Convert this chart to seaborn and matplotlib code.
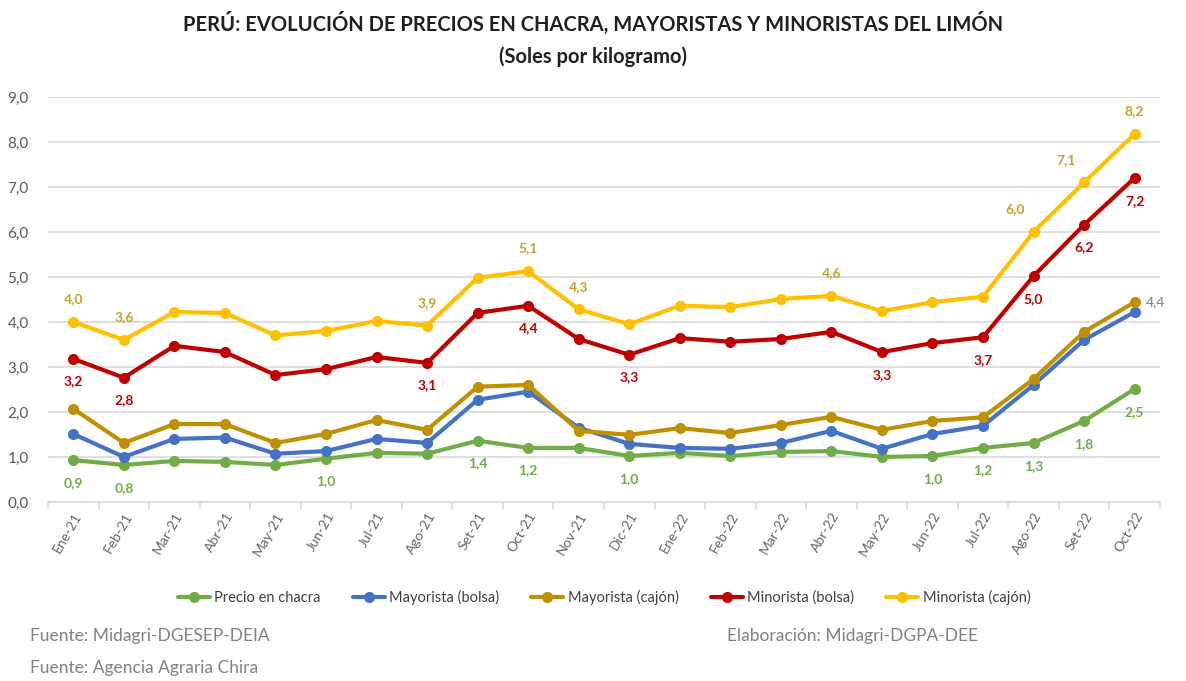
import matplotlib
matplotlib.use("Agg")
import matplotlib.pyplot as plt
import seaborn as sns
import pandas as pd
from matplotlib.ticker import FixedLocator, FuncFormatter

months = ["Ene-21", "Feb-21", "Mar-21", "Abr-21", "May-21", "Jun-21", "Jul-21", "Ago-21",
          "Set-21", "Oct-21", "Nov-21", "Dic-21", "Ene-22", "Feb-22", "Mar-22", "Abr-22",
          "May-22", "Jun-22", "Jul-22", "Ago-22", "Set-22", "Oct-22"]

chacra = [0.93, 0.82, 0.91, 0.89, 0.82, 0.96, 1.09, 1.07, 1.36, 1.20, 1.20, 1.02,
          1.09, 1.02, 1.11, 1.13, 1.00, 1.02, 1.20, 1.31, 1.80, 2.51]
may_bolsa = [1.51, 1.00, 1.40, 1.43, 1.07, 1.13, 1.40, 1.31, 2.27, 2.45, 1.65, 1.29,
             1.20, 1.18, 1.31, 1.58, 1.18, 1.51, 1.69, 2.60, 3.60, 4.22]
may_cajon = [2.07, 1.31, 1.73, 1.73, 1.31, 1.51, 1.82, 1.60, 2.56, 2.60, 1.58, 1.49,
             1.64, 1.53, 1.71, 1.89, 1.60, 1.80, 1.88, 2.73, 3.78, 4.44]
min_bolsa = [3.18, 2.76, 3.47, 3.33, 2.82, 2.95, 3.22, 3.09, 4.20, 4.36, 3.62, 3.27,
             3.64, 3.56, 3.62, 3.78, 3.33, 3.53, 3.66, 5.02, 6.16, 7.20]
min_cajon = [4.00, 3.60, 4.22, 4.20, 3.70, 3.80, 4.02, 3.92, 4.98, 5.13, 4.28, 3.95,
             4.36, 4.33, 4.51, 4.58, 4.24, 4.44, 4.56, 6.00, 7.10, 8.18]

series_names = ["Precio en chacra", "Mayorista (bolsa)", "Mayorista (cajón)",
                "Minorista (bolsa)", "Minorista (cajón)"]
series_vals = [chacra, may_bolsa, may_cajon, min_bolsa, min_cajon]
colors = ["#70AD47", "#4472C4", "#BF9000", "#C00000", "#FFC000"]
label_colors = ["#70AD47", "#4472C4", "#7F7F7F", "#C00000", "#C9A227"]

# data labels: (series index, month index, position)
labels = [
    (0, 0, "below"), (0, 1, "below"), (0, 5, "below"), (0, 8, "below"), (0, 9, "below"),
    (0, 11, "below"), (0, 17, "below"), (0, 18, "below"), (0, 19, "below"),
    (0, 20, "below"), (0, 21, "below"),
    (2, 21, "right"),
    (3, 0, "below"), (3, 1, "below"), (3, 7, "below"), (3, 9, "below"), (3, 11, "below"),
    (3, 16, "below"), (3, 18, "below"), (3, 19, "below"), (3, 20, "below"),
    (3, 21, "below"),
    (4, 0, "above"), (4, 1, "above"), (4, 7, "above"), (4, 9, "above"), (4, 10, "above"),
    (4, 15, "above"), (4, 19, "aboveleft"), (4, 20, "aboveleft"), (4, 21, "above"),
]

rows = []
for name, vals in zip(series_names, series_vals):
    for i, (m, v) in enumerate(zip(months, vals)):
        rows.append({"idx": i, "Mes": m, "Serie": name, "Valor": v})
df = pd.DataFrame(rows)

sns.set_theme(style="white")
font = ["Lato", "DejaVu Sans"]
plt.rcParams["font.family"] = font

fig = plt.figure(figsize=(11.86, 6.81), dpi=100)
ax = fig.add_axes([0.0405, 0.263, 0.9375, 0.5946])

sns.lineplot(data=df, x="idx", y="Valor", hue="Serie", hue_order=series_names,
             palette=colors, marker="o", markersize=8, markeredgewidth=0,
             linewidth=3, ax=ax, legend=True)

ax.set_xlim(-0.5, len(months) - 0.5)
ax.set_ylim(0, 9)
ax.yaxis.set_major_locator(FixedLocator([0, 1, 2, 3, 4, 5, 6, 7, 8, 9]))
ax.yaxis.set_major_formatter(FuncFormatter(lambda v, p: f"{v:.1f}".replace(".", ",")))
ax.grid(axis="y", color="#D9D9D9", linewidth=1.2)
ax.set_axisbelow(True)
for s in ["top", "right", "left"]:
    ax.spines[s].set_visible(False)
ax.spines["bottom"].set_color("#D9D9D9")
ax.spines["bottom"].set_linewidth(1.2)

ax.set_xticks(range(len(months)))
ax.set_xticklabels(months, rotation=60, ha="right", rotation_mode="anchor",
                   fontsize=10, color="#666666")
ax.tick_params(axis="x", length=0, pad=6)
ax.set_xticks([i - 0.5 for i in range(len(months) + 1)], minor=True)
ax.tick_params(axis="x", which="minor", length=5, color="#D9D9D9", width=1.2, bottom=True)
ax.tick_params(axis="y", length=0, labelsize=11, labelcolor="#595959", pad=14)
ax.set_xlabel("")
ax.set_ylabel("")

offsets = {"below": (0, -12, "center", "top"), "above": (0, 12, "center", "bottom"),
           "right": (8, 0, "left", "center"),
           "aboveleft": (-6, 12, "right", "bottom")}
for si, mi, pos in labels:
    v = series_vals[si][mi]
    dx, dy, ha, va = offsets[pos]
    ax.annotate(f"{v:.1f}".replace(".", ","), (mi, v), xytext=(dx, dy),
                textcoords="offset points", ha=ha, va=va, fontsize=10,
                fontweight="bold" if si != 2 else "normal", color=label_colors[si])

leg = ax.legend(loc="upper center", bbox_to_anchor=(0.5, -0.185), ncol=5, frameon=False,
                fontsize=10.5, handlelength=2.2, columnspacing=2.2, handletextpad=0.3)
for t in leg.get_texts():
    t.set_color("#404040")

fig.text(0.5, 0.965, "PERÚ: EVOLUCIÓN DE PRECIOS EN CHACRA, MAYORISTAS Y MINORISTAS DEL LIMÓN",
         ha="center", va="center", fontsize=14.5, fontweight="bold", color="#1F1F1F")
fig.text(0.5, 0.917, "(Soles por kilogramo)", ha="center", va="center",
         fontsize=14.5, fontweight="bold", color="#1F1F1F")

fig.text(30 / 1186, 1 - 636 / 681, "Fuente: Midagri-DGESEP-DEIA", ha="left", va="center",
         fontsize=12.5, color="#808080")
fig.text(727 / 1186, 1 - 636 / 681, "Elaboración: Midagri-DGPA-DEE", ha="left", va="center",
         fontsize=12.5, color="#808080")
fig.text(30 / 1186, 1 - 668 / 681, "Fuente: Agencia Agraria Chira", ha="left", va="center",
         fontsize=12.5, color="#808080")

fig.savefig("out.png", dpi=100)
